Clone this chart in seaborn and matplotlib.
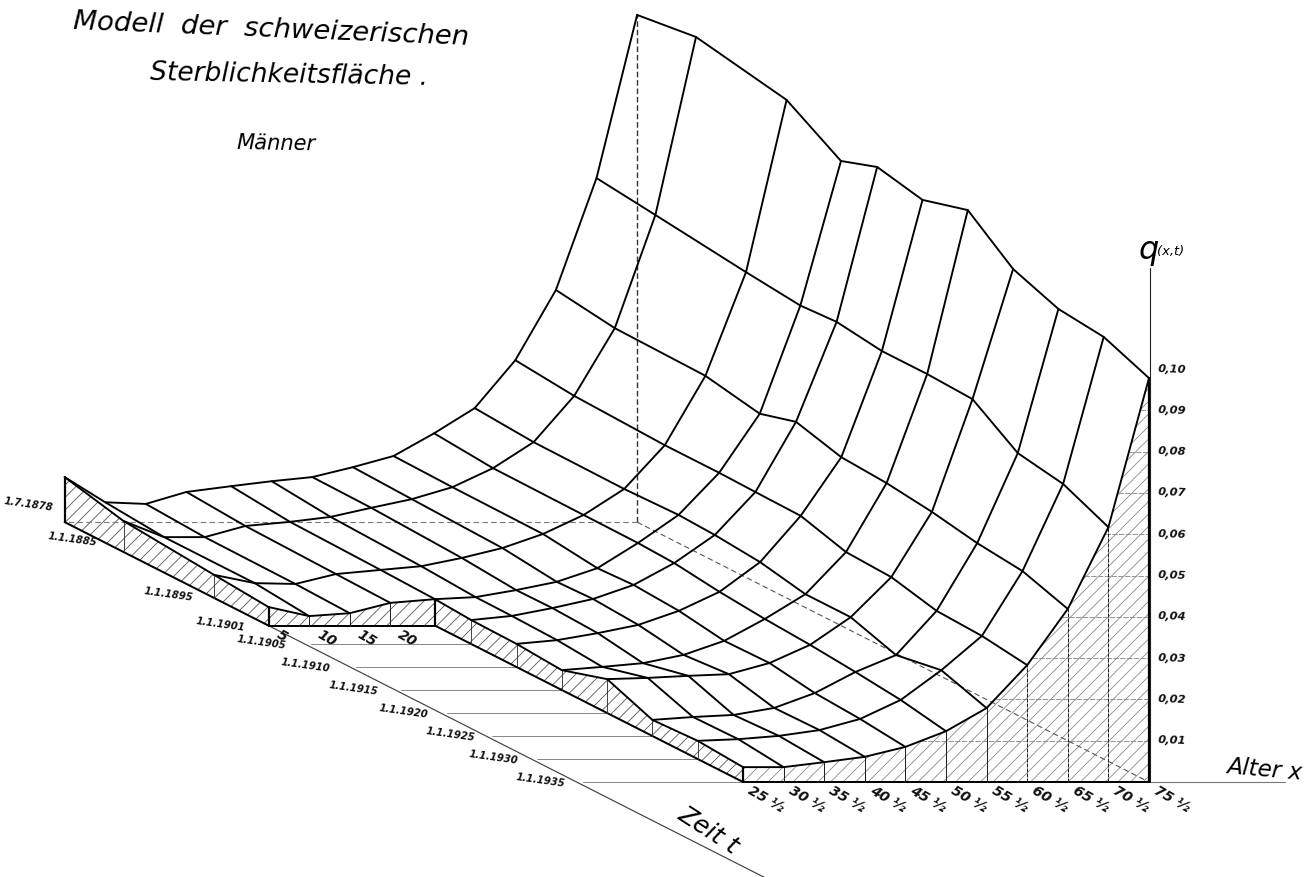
import numpy as np
import pandas as pd
import matplotlib
matplotlib.use('Agg')
import matplotlib.pyplot as plt
import seaborn as sns

nan = float('nan')

ages = [5, 10, 15, 20, 25.5, 30.5, 35.5, 40.5, 45.5, 50.5, 55.5, 60.5, 65.5, 70.5, 75.5]
years = [1878.5, 1885, 1895, 1901, 1905, 1910, 1915, 1920, 1925, 1930, 1935]
year_labels = ['1.7.1878', '1.1.1885', '1.1.1895', '1.1.1901', '1.1.1905', '1.1.1910',
               '1.1.1915', '1.1.1920', '1.1.1925', '1.1.1930', '1.1.1935']
age_labels = ['5', '10', '15', '20', '25 ½', '30 ½', '35 ½', '40 ½', '45 ½', '50 ½',
              '55 ½', '60 ½', '65 ½', '70 ½', '75 ½']
q_ticks = [0.01, 0.02, 0.03, 0.04, 0.05, 0.06, 0.07, 0.08, 0.09, 0.10]

# q(x,t), one list per date, ages in the order above
q_1878 = [.0109, .0048, .0044, .0073, .0087, .0099, .0109, .0133, .0160, .0215, .0276, .0392, .0562, .0833, .1228]
q_1885 = [.0075, .0036, .0036, .0063, .0073, .0085, .0107, .0128, .0157, .0203, .0266, .0378, .0542, .0816, .1247]
q_1895 = [.0056, .0036, .0034, .0058, .0068, .0077, .0097, .0121, .0155, .0201, .0264, .0370, .0538, .0789, .1206]
q_1901 = [.0045, .0023, .0030, .0055, .0064, .0069, .0086, .0106, .0139, .0200, .0268, .0370, .0513, .0775, .1125]
q_1905 = [nan, nan, nan, nan, .0058, .0068, .0087, .0109, .0143, .0196, .0264, .0368, .0538, .0780, .1155]
q_1910 = [nan, nan, nan, nan, .0056, .0065, .0082, .0102, .0136, .0182, .0254, .0366, .0508, .0765, .1131]
q_1915 = [nan, nan, nan, nan, .0048, .0056, .0065, .0085, .0119, .0172, .0232, .0334, .0501, .0765, .1162]
q_1920 = [nan, nan, nan, nan, .0082, .0085, .0090, .0094, .0121, .0165, .0232, .0329, .0487, .0760, .1075]
q_1925 = [nan, nan, nan, nan, .0039, .0046, .0051, .0068, .0104, .0155, .0196, .0303, .0467, .0685, .1034]
q_1930 = [nan, nan, nan, nan, .0044, .0048, .0056, .0070, .0097, .0143, .0215, .0298, .0455, .0666, .1022]
q_1935 = [nan, nan, nan, nan, .0036, .0036, .0048, .0061, .0085, .0123, .0179, .0283, .0419, .0617, .0978]
q_rows = [q_1878, q_1885, q_1895, q_1901, q_1905, q_1910, q_1915, q_1920, q_1925, q_1930, q_1935]

DPI = 150


# oblique projection of the drawing: age goes right, time comes forward, q goes up
def proj(age, year, q=0.0):
    sx = 1149 - (75.5 - np.asarray(age, float)) * 8.12 - (1935 - np.asarray(year, float)) * 9.06
    sy = 782 - (1935 - np.asarray(year, float)) * 4.6 - np.asarray(q, float) * 4130
    return sx, sy


def pt(px):
    return px * 72 / DPI


sns.set_style('white')
plt.rcParams['font.family'] = ['DejaVu Sans']
plt.rcParams['hatch.linewidth'] = 0.4

fig = plt.figure(figsize=(1314 / DPI, 877 / DPI), dpi=DPI)
ax = fig.add_axes([0, 0, 1, 1])
ax.set_xlim(0, 1314)
ax.set_ylim(877, 0)
ax.axis('off')

rows = []
for yr, row in zip(years, q_rows):
    for a, q in zip(ages, row):
        if not np.isnan(q):
            sx, sy = proj(a, yr, q)
            rows.append({'age': a, 'year': yr, 'q': q, 'sx': float(sx), 'sy': float(sy)})
df = pd.DataFrame(rows)


def q_at(age, year):
    return q_rows[years.index(year)][ages.index(age)]


def draw(xs, ys, color='black', lw=2.0, ls='-', z=3):
    d = pd.DataFrame({'x': xs, 'y': ys})
    sns.lineplot(data=d, x='x', y='y', estimator=None, sort=False,
                 color=color, linewidth=pt(lw), linestyle=ls, ax=ax, zorder=z)


def face(poly_age, poly_year, color):
    top = [q_at(a, y) for a, y in zip(poly_age, poly_year)]
    tx, ty = proj(poly_age, poly_year, top)
    bx, by = proj(poly_age, poly_year)
    xs = np.r_[tx, bx[::-1]]
    ys = np.r_[ty, by[::-1]]
    ax.fill(xs, ys, facecolor='none', edgecolor=color, hatch='////', linewidth=0, zorder=1)
    draw(bx, by, lw=2.0)


# hatched sides of the model
side_5_y = [1878.5, 1885, 1895, 1901]
face([5] * 4, side_5_y, '#555555')
face(ages[:5], [1901] * 5, '#555555')
side_25_y = years[3:]
face([25.5] * len(side_25_y), side_25_y, '#555555')
face(ages[4:], [1935] * 11, '#8a8a8a')

# uprights on the side faces
for yr in [1885, 1895]:
    x, y = proj(5, yr)
    x2, y2 = proj(5, yr, q_at(5, yr))
    draw([x, x2], [y, y2], color='#333333', lw=0.9)
for a in ages[1:4]:
    x, y = proj(a, 1901)
    x2, y2 = proj(a, 1901, q_at(a, 1901))
    draw([x, x2], [y, y2], color='#222222', lw=1.0)
for yr in years[4:-1]:
    x, y = proj(25.5, yr)
    x2, y2 = proj(25.5, yr, q_at(25.5, yr))
    draw([x, x2], [y, y2], color='#333333', lw=0.9)
for a in ages[5:-1]:
    x, y = proj(a, 1935)
    x2, y2 = proj(a, 1935, q_at(a, 1935))
    draw([x, x2], [y, y2], color='#222222', lw=1.0, ls=(0, (4, 1)) if a > 60 else '-')
for a, yr in [(5, 1878.5), (5, 1901), (25.5, 1901), (25.5, 1935), (75.5, 1935)]:
    x, y = proj(a, yr)
    x2, y2 = proj(a, yr, q_at(a, yr))
    draw([x, x2], [y, y2], lw=2.2)

# q levels across the front face
edge_q = [q_at(a, 1935) for a in ages[4:]]
for q in q_ticks[:-1]:
    a0 = np.interp(q, edge_q, ages[4:])
    x0, y0 = proj(a0, 1935, q)
    x1, y1 = proj(75.5, 1935, q)
    draw([x0, x1], [y0, y1], color='#8c8c8c', lw=0.9, ls=(0, (6, 1.5)), z=2)

# hidden edges of the box
x0, y0 = proj(75.5, 1878.5)
x1, y1 = proj(75.5, 1878.5, q_at(75.5, 1878.5))
draw([x0, x1], [y0, y1], color='#333333', lw=1.4, ls=(0, (4, 2)), z=2)
x1, y1 = proj(5, 1878.5)
draw([x0, x1], [y0, y1], color='#777777', lw=1.1, ls=(0, (5, 3)), z=2)
x1, y1 = proj(75.5, 1935)
draw([x0, x1], [y0, y1], color='#555555', lw=1.1, ls=(0, (5, 3)), z=2)

# the surface net itself
for yr, d in df.groupby('year'):
    sns.lineplot(data=d.sort_values('age'), x='sx', y='sy', estimator=None, sort=False,
                 color='black', linewidth=pt(1.9), ax=ax, zorder=4)
for a, d in df.groupby('age'):
    sns.lineplot(data=d.sort_values('year'), x='sx', y='sy', estimator=None, sort=False,
                 color='black', linewidth=pt(1.9), ax=ax, zorder=4)

# time axis and the thin date lines under the model
x0, y0 = proj(5, 1901)
x1, y1 = proj(5, 1956)
draw([x0, x1], [y0, y1], color='#444444', lw=1.2, z=2)
for yr in years[4:]:
    xa, ya = proj(5, yr)
    xb, yb = proj(25.5, yr)
    draw([xa + 6, xb], [ya, yb], color='#8a8a8a', lw=1.0, z=2)

# age axis and q axis
x0, y0 = proj(75.5, 1935)
draw([x0, x0 + 136], [y0, y0], color='#777777', lw=1.1, z=2)
x1, y1 = proj(75.5, 1935, 0.1245)
draw([x0 + 1, x1 + 1], [y0, y1], color='#222222', lw=1.1, z=2)

label_nudge = {'1.7.1878': (5, -14), '1.1.1885': (-10, -9), '1.1.1895': (-4, 0), '1.1.1901': (-7, 2),
               '1.1.1905': (-2, 2), '1.1.1910': (-3, 2), '1.1.1915': (0, 2), '1.1.1920': (4, 2),
               '1.1.1925': (6, 2), '1.1.1930': (4, 2), '1.1.1935': (5, 2)}
for yr, lab in zip(years, year_labels):
    x, y = proj(5, yr)
    dx, dy = label_nudge[lab]
    ax.text(x - 17 + dx, y + dy, lab, ha='right', va='center', rotation=-8,
            rotation_mode='anchor', style='italic', fontweight='bold',
            fontsize=pt(10), color='#111111')

for a, lab in zip(ages, age_labels):
    if a < 25:
        x, y = proj(a, 1901)
        off = 9
    else:
        x, y = proj(a, 1935)
        off = 6
    ax.text(x + off, y + 8, lab, ha='left', va='center', rotation=-30,
            rotation_mode='anchor', style='italic', fontweight='bold',
            fontsize=pt(14), color='#111111')

for q in q_ticks:
    x, y = proj(75.5, 1935, q)
    ax.text(x + 9, y, f'{q:.2f}'.replace('.', ','), ha='left', va='center',
            style='italic', fontweight='bold', fontsize=pt(11.5), color='#111111', rotation=-2)

ax.text(73, 22, 'Modell  der  schweizerischen', ha='left', va='center', rotation=-2.3,
        rotation_mode='anchor', style='italic', fontsize=pt(27.5), color='black')
ax.text(150, 73, 'Sterblichkeitsfläche .', ha='left', va='center', rotation=-1,
        rotation_mode='anchor', style='italic', fontsize=pt(26.5), color='black')
ax.text(237, 143, 'Männer', ha='left', va='center', rotation=-1, rotation_mode='anchor',
        style='italic', fontsize=pt(21), color='black')

ax.text(1227, 767, 'Alter x', ha='left', va='center', rotation=-5, rotation_mode='anchor',
        style='italic', fontsize=pt(23), color='black')
ax.text(680, 812, 'Zeit t', ha='left', va='center', rotation=-33, rotation_mode='anchor',
        style='italic', fontsize=pt(25), color='black')
ax.text(1139, 250, 'q', ha='left', va='center', style='italic', fontsize=pt(32), color='black')
ax.text(1157, 252, '(x,t)', ha='left', va='center', style='italic', fontsize=pt(13), color='black')

fig.savefig('out.png', dpi=DPI, facecolor='white')
